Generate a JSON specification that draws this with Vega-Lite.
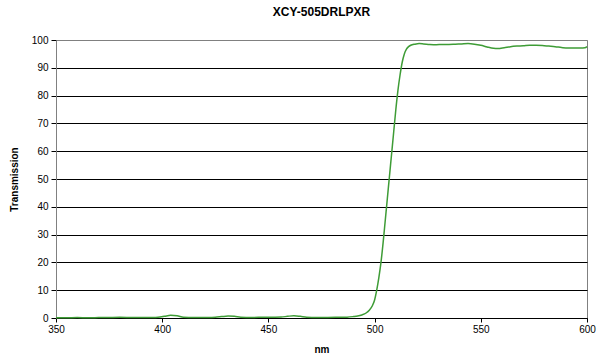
{
  "$schema": "https://vega.github.io/schema/vega-lite/v6.json",
  "width": 531,
  "height": 278,
  "autosize": {"type": "none"},
  "padding": {"left": 56, "top": 40, "right": 18, "bottom": 38},
  "background": "white",
  "title": {"text": "XCY-505DRLPXR", "font": "Liberation Sans", "fontSize": 12, "fontWeight": "bold", "color": "black", "anchor": "middle", "offset": 16},
  "config": {
    "view": {"stroke": "#808080", "strokeWidth": 1},
    "axis": {"labelFont": "Liberation Sans", "titleFont": "Liberation Sans", "labelFontSize": 10, "titleFontSize": 10, "titleFontWeight": "bold", "labelColor": "black", "titleColor": "black"}
  },
  "data": {"values": [
    {"nm": 350, "t": 0.1}, {"nm": 355, "t": 0.1}, {"nm": 360, "t": 0.15}, {"nm": 365, "t": 0.1}, {"nm": 370, "t": 0.15},
    {"nm": 375, "t": 0.2}, {"nm": 380, "t": 0.25}, {"nm": 385, "t": 0.2}, {"nm": 390, "t": 0.15}, {"nm": 395, "t": 0.2},
    {"nm": 398, "t": 0.3}, {"nm": 401, "t": 0.6}, {"nm": 404, "t": 0.95}, {"nm": 407, "t": 0.8}, {"nm": 410, "t": 0.3},
    {"nm": 415, "t": 0.15}, {"nm": 420, "t": 0.2}, {"nm": 425, "t": 0.3}, {"nm": 428, "t": 0.5}, {"nm": 431, "t": 0.7},
    {"nm": 434, "t": 0.6}, {"nm": 437, "t": 0.3}, {"nm": 442, "t": 0.2}, {"nm": 447, "t": 0.25}, {"nm": 452, "t": 0.3},
    {"nm": 456, "t": 0.35}, {"nm": 459, "t": 0.6}, {"nm": 462, "t": 0.8}, {"nm": 465, "t": 0.6}, {"nm": 468, "t": 0.3},
    {"nm": 473, "t": 0.2}, {"nm": 478, "t": 0.2}, {"nm": 483, "t": 0.25}, {"nm": 487, "t": 0.3}, {"nm": 490, "t": 0.5},
    {"nm": 492, "t": 0.7}, {"nm": 494, "t": 1.1}, {"nm": 496, "t": 1.8}, {"nm": 497.5, "t": 2.8}, {"nm": 499, "t": 4.5},
    {"nm": 500, "t": 6.5}, {"nm": 501, "t": 10}, {"nm": 502, "t": 14.5}, {"nm": 503, "t": 20}, {"nm": 504, "t": 27},
    {"nm": 505, "t": 35}, {"nm": 506, "t": 43}, {"nm": 507, "t": 51}, {"nm": 508, "t": 59}, {"nm": 509, "t": 67},
    {"nm": 510, "t": 75}, {"nm": 511, "t": 82}, {"nm": 512, "t": 87.5}, {"nm": 513, "t": 92}, {"nm": 514, "t": 95},
    {"nm": 515, "t": 96.7}, {"nm": 516, "t": 97.6}, {"nm": 517, "t": 98.1}, {"nm": 519, "t": 98.5}, {"nm": 521, "t": 98.7},
    {"nm": 523, "t": 98.6}, {"nm": 526, "t": 98.4}, {"nm": 529, "t": 98.3}, {"nm": 532, "t": 98.4}, {"nm": 535, "t": 98.4},
    {"nm": 538, "t": 98.5}, {"nm": 541, "t": 98.6}, {"nm": 544, "t": 98.7}, {"nm": 547, "t": 98.5}, {"nm": 550, "t": 98.1},
    {"nm": 553, "t": 97.5}, {"nm": 556, "t": 97.0}, {"nm": 558, "t": 96.9}, {"nm": 561, "t": 97.2}, {"nm": 564, "t": 97.6},
    {"nm": 567, "t": 97.8}, {"nm": 570, "t": 97.9}, {"nm": 573, "t": 98.1}, {"nm": 576, "t": 98.1}, {"nm": 579, "t": 98.0},
    {"nm": 582, "t": 97.8}, {"nm": 585, "t": 97.6}, {"nm": 588, "t": 97.3}, {"nm": 591, "t": 97.1}, {"nm": 594, "t": 97.1},
    {"nm": 597, "t": 97.1}, {"nm": 599, "t": 97.2}, {"nm": 600, "t": 97.6}
  ]},
  "mark": {"type": "line", "color": "#3e9c36", "strokeWidth": 1.5, "interpolate": "monotone"},
  "encoding": {
    "x": {"field": "nm", "type": "quantitative", "title": "nm",
      "scale": {"domain": [350, 600], "nice": false, "zero": false},
      "axis": {"values": [350, 400, 450, 500, 550, 600], "grid": false, "domainColor": "black", "tickColor": "black", "tickSize": 4, "labelPadding": 2, "titlePadding": 10, "labelFlush": false}},
    "y": {"field": "t", "type": "quantitative", "title": "Transmission",
      "scale": {"domain": [0, 100], "nice": false},
      "axis": {"values": [0, 10, 20, 30, 40, 50, 60, 70, 80, 90, 100], "grid": true,
        "gridColor": {"condition": {"test": "datum.value === 100", "value": "#808080"}, "value": "black"},
        "gridOpacity": 1, "domainColor": "#808080", "tickColor": "black", "tickSize": 5, "labelPadding": 3, "titlePadding": 12, "labelFlush": false}}
  }
}
